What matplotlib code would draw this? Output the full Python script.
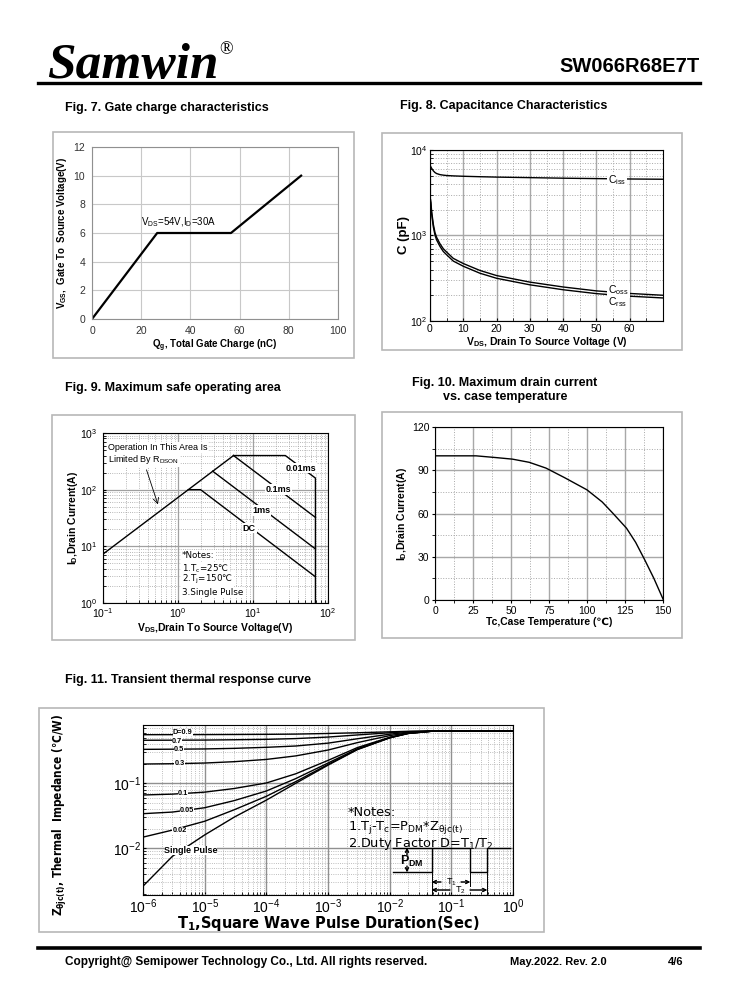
import matplotlib
matplotlib.use('Agg')
import matplotlib.pyplot as plt
from matplotlib.patches import Rectangle
from matplotlib.lines import Line2D
from matplotlib.ticker import MultipleLocator, LogLocator, NullFormatter

plt.rcParams['font.family'] = ['Liberation Sans', 'DejaVu Sans']
plt.rcParams['mathtext.fontset'] = 'custom'
plt.rcParams['mathtext.rm'] = 'Liberation Sans'
plt.rcParams['mathtext.it'] = 'Liberation Sans:italic'
plt.rcParams['mathtext.bf'] = 'Liberation Sans:bold'
plt.rcParams['mathtext.default'] = 'regular'
NARROW = ['Liberation Sans Narrow', 'Liberation Sans', 'DejaVu Sans']
DV = ['DejaVu Sans']

# Fig 7 - gate charge
qg = [0, 26.5, 56.5, 85]
vgs = [0, 6, 6, 10]

# Fig 8 - capacitance
v_ds = [0.2, 0.5, 1, 1.5, 2, 3, 4, 5, 7, 10, 15, 20, 30, 40, 50, 60, 70]
c_iss = [6400, 6100, 5700, 5450, 5300, 5150, 5080, 5030, 4980, 4930, 4870, 4820, 4750, 4680, 4630, 4580, 4550]
c_oss = [2600, 1900, 1350, 1080, 950, 800, 700, 640, 540, 470, 390, 340, 285, 250, 225, 210, 200]
c_rss = [2450, 1780, 1260, 1010, 885, 745, 650, 595, 502, 437, 362, 316, 265, 232, 209, 195, 186]

# Fig 9 - safe operating area
soa_rds_v = [0.1, 5.5]
soa_rds_i = [7.3, 400]
soa_dc_v = [1.37, 2.0, 68]
soa_dc_i = [100, 100, 2.9]
soa_1ms_v = [2.9, 68]
soa_1ms_i = [212, 9.0]
soa_01ms_v = [5.5, 68]
soa_01ms_i = [400, 32.4]
soa_001ms_v = [5.5, 27, 68, 68]
soa_001ms_i = [400, 400, 160, 1]

# Fig 10 - drain current vs case temperature
tc = [0, 27, 40, 51, 62, 73, 85, 100, 110, 117, 126, 132, 138, 144, 150]
id_max = [100, 100, 98.8, 97.7, 95.5, 91.5, 85, 76.4, 68, 60.2, 49.8, 40, 27.8, 15, 0.7]

# Fig 11 - transient thermal response
t_pulse = [1e-6, 3e-6, 1e-5, 3e-5, 1e-4, 3e-4, 1e-3, 3e-3, 1e-2, 2e-2, 5e-2, 1e-1, 1]
z_curves = {
    '0.9': [0.56, 0.561, 0.562, 0.564, 0.567, 0.572, 0.585, 0.6, 0.62, 0.632, 0.64, 0.64, 0.64],
    '0.7': [0.46, 0.461, 0.463, 0.468, 0.475, 0.488, 0.515, 0.555, 0.6, 0.625, 0.639, 0.64, 0.64],
    '0.5': [0.333, 0.335, 0.338, 0.345, 0.358, 0.375, 0.415, 0.485, 0.57, 0.612, 0.638, 0.64, 0.64],
    '0.3': [0.198, 0.2, 0.205, 0.215, 0.233, 0.264, 0.325, 0.423, 0.542, 0.6, 0.637, 0.64, 0.64],
    '0.1': [0.066, 0.068, 0.073, 0.083, 0.101, 0.14, 0.225, 0.355, 0.51, 0.59, 0.636, 0.64, 0.64],
    '0.05': [0.034, 0.036, 0.042, 0.054, 0.076, 0.118, 0.205, 0.34, 0.505, 0.588, 0.636, 0.64, 0.64],
    '0.02': [0.0148, 0.019, 0.026, 0.039, 0.063, 0.106, 0.195, 0.333, 0.502, 0.586, 0.635, 0.64, 0.64],
    'single': [0.0026, 0.0075, 0.016, 0.030, 0.055, 0.10, 0.19, 0.33, 0.50, 0.585, 0.635, 0.64, 0.64],
}
z_labels = ['D=0.9', '0.7', '0.5', '0.3', '0.1', '0.05', '0.02', 'Single Pulse']
z_label_x = [4.4e-6, 3.6e-6, 3.8e-6, 3.9e-6, 4.4e-6, 5.1e-6, 3.9e-6, 5.85e-6]
z_label_y = [0.6, 0.44, 0.334, 0.199, 0.069, 0.038, 0.0185, 0.0091]

W, H = 738, 1000
fig = plt.figure(figsize=(W / 100, H / 100), dpi=100)


def add_ax(l, t, r, b):
    return fig.add_axes([l / W, 1 - b / H, (r - l) / W, (b - t) / H])


def ftext(x, y, s, **kw):
    fig.text(x / W, 1 - y / H, s, **kw)


def box(l, t, r, b):
    fig.add_artist(Rectangle((l / W, 1 - b / H), (r - l) / W, (b - t) / H,
                             transform=fig.transFigure, fill=False, ec='#b8b8b8', lw=1.2))


def pline(xs, ys, lw=1.0):
    fig.add_artist(Line2D([x / W for x in xs], [1 - y / H for y in ys], color='black', lw=lw))


def parrow(x0, y0, x1, y1):
    fig.add_artist(plt.annotate('', xy=(x1 / W, 1 - y1 / H), xytext=(x0 / W, 1 - y0 / H),
                                xycoords='figure fraction', textcoords='figure fraction',
                                arrowprops=dict(arrowstyle='->', lw=0.7, color='black',
                                                shrinkA=0, shrinkB=0, mutation_scale=6)))


WHITE = dict(facecolor='white', edgecolor='none', pad=0.6)
WHITE_T = dict(facecolor='white', edgecolor='none', pad=0.0)

# header / footer
ftext(47, 78, 'Samwin', family='Liberation Serif', fontsize=37, fontweight='bold',
      style='italic', va='baseline')
ftext(219, 50, '®', family='Liberation Serif', fontsize=13, va='center')
ftext(700, 66, 'SW066R68E7T', fontsize=14.5, fontweight='bold', ha='right', va='center')
pline([38, 700], [83, 83], lw=2.4)
pline([38, 700], [948, 948], lw=2.6)
ftext(65, 962, 'Copyright@ Semipower Technology Co., Ltd. All rights reserved.',
      family=NARROW, fontsize=8.5, fontweight='bold', va='center')
ftext(510, 962, 'May.2022. Rev. 2.0', family=NARROW, fontsize=8, fontweight='bold', va='center')
ftext(668, 962, '4/6', family=NARROW, fontsize=8, fontweight='bold', va='center')

ftext(65, 108, 'Fig. 7. Gate charge characteristics', family=NARROW, fontsize=9,
      fontweight='bold', va='center')
ftext(400, 106, 'Fig. 8. Capacitance Characteristics', family=NARROW, fontsize=9,
      fontweight='bold', va='center')
ftext(65, 388, 'Fig. 9. Maximum safe operating area', family=NARROW, fontsize=9,
      fontweight='bold', va='center')
ftext(505, 390, 'Fig. 10. Maximum drain current\nvs. case temperature', family=NARROW,
      fontsize=9, fontweight='bold', va='center', ha='center', linespacing=1.25)
ftext(65, 680, 'Fig. 11. Transient thermal response curve', family=NARROW, fontsize=9,
      fontweight='bold', va='center')

box(53, 132, 354, 358)
box(382, 133, 682, 350)
box(52, 415, 355, 640)
box(382, 412, 682, 638)
box(39, 708, 544, 932)

# ---- Fig 7
ax7 = add_ax(92, 147, 338, 319)
ax7.plot(qg, vgs, color='black', lw=1.6)
ax7.set_xlim(0, 100)
ax7.set_ylim(0, 12)
ax7.set_xticks(range(0, 101, 20))
ax7.set_yticks(range(0, 13, 2))
ax7.grid(True, color='#c8c8c8', lw=0.8)
ax7.set_axisbelow(True)
for s in ax7.spines.values():
    s.set_color('#909090')
ax7.tick_params(length=0, labelsize=7.5, labelcolor='#333333', pad=5)
ax7.set_xlabel('Q$_g$, Total Gate Charge (nC)', fontsize=7, fontweight='bold', labelpad=1)
ax7.set_ylabel('V$_{GS}$,  Gate To  Source Voltage(V)', fontsize=7, fontweight='bold', labelpad=3)
ax7.text(20, 6.25, 'V$_{DS}$=54V,I$_D$=30A', fontsize=7, va='bottom')

# ---- Fig 8
ax8 = add_ax(430, 150, 663, 321)
ax8.set_yscale('log')
ax8.plot(v_ds, c_iss, color='black', lw=1.0)
ax8.plot(v_ds, c_oss, color='black', lw=1.0)
ax8.plot(v_ds, c_rss, color='black', lw=1.0)
ax8.set_xlim(0, 70)
ax8.set_ylim(100, 1e4)
ax8.set_xticks(range(0, 61, 10))
ax8.xaxis.set_minor_locator(MultipleLocator(5))
ax8.grid(which='major', color='#a8a8a8', lw=1.0)
ax8.grid(which='minor', color='#a8a8a8', lw=0.7, ls=':')
ax8.set_axisbelow(True)
ax8.tick_params(which='both', direction='in', length=2, labelsize=7.5, pad=2)
ax8.set_xlabel('V$_{DS}$, Drain To Source Voltage (V)', fontsize=7.5, fontweight='bold', labelpad=1)
ax8.set_ylabel('C (pF)', fontsize=9.5, fontweight='bold', labelpad=0)
ax8.text(53.5, 4400, 'C$_{iss}$', fontsize=7.5, va='center', bbox=WHITE)
ax8.text(53.5, 228, 'C$_{oss}$', fontsize=7.5, va='center', bbox=WHITE)
ax8.text(53.5, 165, 'C$_{rss}$', fontsize=7.5, va='center', bbox=WHITE)

# ---- Fig 9
ax9 = add_ax(103, 433, 328, 603)
ax9.set_xscale('log')
ax9.set_yscale('log')
for xs, ys in [(soa_rds_v, soa_rds_i), (soa_dc_v, soa_dc_i), (soa_1ms_v, soa_1ms_i),
               (soa_01ms_v, soa_01ms_i), (soa_001ms_v, soa_001ms_i)]:
    ax9.plot(xs, ys, color='black', lw=1.0)
ax9.set_xlim(0.1, 100)
ax9.set_ylim(1, 1000)
ax9.grid(which='major', color='#a0a0a0', lw=0.9)
ax9.grid(which='minor', color='#a0a0a0', lw=0.6, ls=':')
ax9.set_axisbelow(True)
ax9.tick_params(which='both', direction='in', length=2, labelsize=7.5, pad=2)
ax9.tick_params(axis='y', pad=4)
ax9.set_xlabel('V$_{DS}$,Drain To Source Voltage(V)', fontsize=7.5, fontweight='bold', labelpad=1)
ax9.set_ylabel('I$_D$,Drain Current(A)', fontsize=7.5, fontweight='bold', labelpad=0)
for s, x, y in [('0.01ms', 44, 240), ('0.1ms', 22, 100), ('1ms', 13, 43), ('DC', 8.9, 21)]:
    ax9.text(x, y, s, fontsize=6.5, fontweight='bold', ha='center', va='center', bbox=WHITE)
ax9.text(0.117, 550, 'Operation In This Area Is', fontsize=6.5, va='center', bbox=WHITE)
ax9.text(0.117, 335, 'Limited By R$_{DSON}$', fontsize=6.5, va='center', bbox=WHITE)
ax9.annotate('', xy=(0.54, 55), xytext=(0.38, 224),
             arrowprops=dict(arrowstyle='->', lw=0.6, color='black', shrinkA=0, shrinkB=0))
for s, y in [('*Notes:', 6.8), ('1.T$_c$=25℃', 4.0), ('2.T$_j$=150℃', 2.57),
             ('3.Single Pulse', 1.52)]:
    ax9.text(1.12, y, s, family=DV, fontsize=6.3, va='center', bbox=WHITE)

# ---- Fig 10
ax10 = add_ax(435, 427, 663, 600)
ax10.plot(tc, id_max, color='black', lw=1.0)
ax10.set_xlim(0, 150)
ax10.set_ylim(0, 120)
ax10.set_xticks(range(0, 151, 25))
ax10.set_yticks(range(0, 121, 30))
ax10.xaxis.set_minor_locator(MultipleLocator(12.5))
ax10.yaxis.set_minor_locator(MultipleLocator(15))
ax10.grid(which='major', color='#a8a8a8', lw=1.0)
ax10.grid(which='minor', color='#a8a8a8', lw=0.7, ls=':')
ax10.set_axisbelow(True)
ax10.tick_params(which='both', direction='out', length=2, labelsize=7.5, pad=2)
ax10.set_xlabel('Tc,Case Temperature (℃)', fontsize=7.5, fontweight='bold', labelpad=1)
ax10.set_ylabel('I$_D$,Drain Current(A)', fontsize=7.5, fontweight='bold', labelpad=2)

# ---- Fig 11
ax11 = add_ax(143, 725, 513, 895)
ax11.set_xscale('log')
ax11.set_yscale('log')
for key in z_curves:
    ax11.plot(t_pulse, z_curves[key], color='black', lw=1.0)
ax11.set_xlim(1e-6, 1)
ax11.set_ylim(0.0019, 0.79)
ax11.xaxis.set_minor_locator(LogLocator(subs=range(2, 10)))
ax11.xaxis.set_minor_formatter(NullFormatter())
ax11.yaxis.set_minor_formatter(NullFormatter())
ax11.grid(which='major', color='#909090', lw=1.0)
ax11.grid(which='minor', color='#a8a8a8', lw=0.6, ls=':')
ax11.set_axisbelow(True)
ax11.tick_params(which='both', direction='in', length=2.5, labelsize=10, pad=1.5)
for k, (s, x, y) in enumerate(zip(z_labels, z_label_x, z_label_y)):
    fs = 6.5 if s == 'Single Pulse' else 5.3
    ax11.text(x, y, s, fontsize=fs, fontweight='bold', ha='center', va='center',
              bbox=WHITE_T, zorder=20 - k)
ax11.set_xlabel('T$_1$,Square Wave Pulse Duration(Sec)', family=DV,
                fontsize=10.5, fontweight='bold', labelpad=-1)
ax11.set_ylabel('Z$_{\\theta jc(t)}$, Thermal  Impedance (℃/W)',
                family=['DejaVu Sans Condensed', 'DejaVu Sans'], fontstretch='condensed',
                fontsize=8.5, fontweight='bold')
ax11.yaxis.set_label_coords(-0.2, 0.47)
for s, y in [('*Notes:', 812), ('1.T$_j$-T$_c$=P$_{DM}$*Z$_{\\theta jc(t)}$', 827),
             ('2.Duty Factor D=T$_1$/T$_2$', 843.5)]:
    ftext(348, y, s, family=DV, fontsize=9.3, va='center')

# pulse sketch
pline([393, 432, 432, 470, 470, 487, 487, 510], [872, 872, 848, 848, 872, 872, 848, 848])
pline([393, 432], [848, 848])
pline([432, 432], [872, 894], lw=0.7)
pline([470, 470], [872, 886], lw=0.7)
pline([487, 487], [872, 894], lw=0.7)
parrow(407, 855, 407, 848)
parrow(407, 866, 407, 872)
ftext(412, 861, 'P$_{DM}$', fontsize=9, fontweight='bold', ha='center', va='center')
parrow(441, 882, 432, 882)
parrow(461, 882, 470, 882)
ftext(451, 882, 'T$_1$', fontsize=6.5, ha='center', va='center')
parrow(450, 890, 432, 890)
parrow(470, 890, 487, 890)
ftext(460, 890, 'T$_2$', fontsize=6.5, ha='center', va='center')

fig.savefig('out.png', dpi=100)
